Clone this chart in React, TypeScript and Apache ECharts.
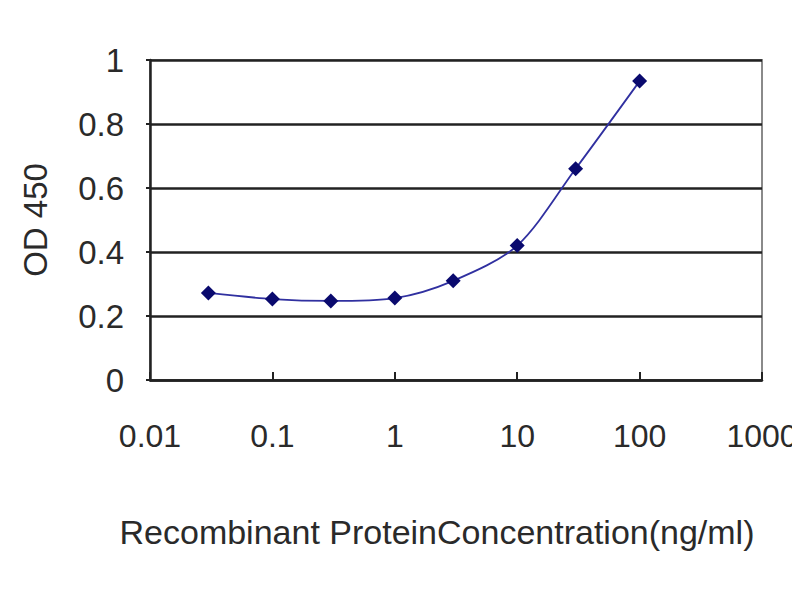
import { useEffect, useRef } from "react";
import * as echarts from "echarts";

const concentrations = [0.03, 0.1, 0.3, 1, 3, 10, 30, 100];
const odValues = [0.272, 0.253, 0.247, 0.256, 0.31, 0.42, 0.66, 0.934];

const xAxisName = "Recombinant ProteinConcentration(ng/ml)";
const yAxisName = "OD 450";

const FONT = "'Liberation Sans', Arial, sans-serif";
const TEXT = "#2a2a2a";

export default function App() {
  const chartRef = useRef<HTMLDivElement>(null);

  useEffect(() => {
    if (!chartRef.current) return;
    const chart = echarts.init(chartRef.current, null, { renderer: "svg" });

    chart.setOption({
      animation: false,
      backgroundColor: "#ffffff",
      grid: {
        left: 150,
        right: 38,
        top: 60,
        bottom: 220,
        outerBoundsMode: "none",
        show: true,
        borderColor: "#8a8a8a",
        borderWidth: 2,
        backgroundColor: "#ffffff",
      },
      xAxis: {
        type: "log",
        logBase: 10,
        min: 0.01,
        max: 1000,
        name: xAxisName,
        nameLocation: "middle",
        nameGap: 135,
        nameTextStyle: { fontFamily: FONT, fontSize: 34, color: TEXT, padding: [0, 38, 0, 0] },
        axisLine: { show: true, lineStyle: { color: "#222", width: 2.5 } },
        axisTick: { show: true, inside: true, length: 8, lineStyle: { color: "#222", width: 2 } },
        axisLabel: {
          fontFamily: FONT,
          fontSize: 32,
          color: TEXT,
          margin: 40,
          formatter: (v: number) => String(v),
        },
        splitLine: { show: false },
      },
      yAxis: {
        type: "value",
        min: 0,
        max: 1,
        interval: 0.2,
        name: yAxisName,
        nameLocation: "middle",
        nameGap: 98,
        nameRotate: 90,
        nameTextStyle: { fontFamily: FONT, fontSize: 33, color: TEXT },
        axisLine: { show: true, lineStyle: { color: "#222", width: 2.5 } },
        axisTick: { show: true, length: 4, lineStyle: { color: "#222", width: 2 } },
        axisLabel: {
          fontFamily: FONT,
          fontSize: 33,
          color: TEXT,
          margin: 26,
          formatter: (v: number) => String(Math.round(v * 10) / 10),
        },
        splitLine: { show: true, lineStyle: { color: "#222", width: 2.5 } },
      },
      series: [
        {
          type: "line",
          data: concentrations.map((c, i) => [c, odValues[i]]),
          smooth: 0.3,
          symbol: "diamond",
          symbolSize: 15,
          lineStyle: { color: "#3030a0", width: 1.8 },
          itemStyle: { color: "#0a0a6e" },
        },
      ],
    });

    return () => chart.dispose();
  }, []);

  return <div ref={chartRef} style={{ width: 800, height: 600, margin: -8 }} />;
}
